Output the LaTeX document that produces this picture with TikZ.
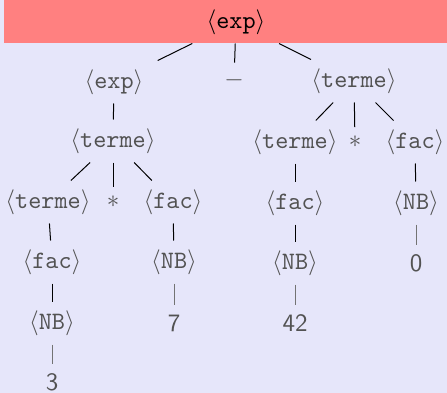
\documentclass[tikz,border=0pt]{standalone}
\definecolor{blockbg}{RGB}{230,230,250}
\definecolor{titlebg}{RGB}{255,128,128}
\newcommand{\nterm}[1]{$\langle$\texttt{#1}$\rangle$}

\begin{document}
\begin{tikzpicture}[x=0.4pt,y=-0.4pt,
	nt/.style={text=black!68,inner xsep=6pt,inner ysep=3.4pt},
	num/.style={text=black!68,font=\sffamily,inner sep=3.6pt},
	leaf/.style={draw=black!55}]
	\useasboundingbox (0,0) rectangle (447,393);
	\fill[blockbg] (0,0) rectangle (447,393);
	\fill[titlebg] (4,0) rectangle (447,43);
	\node[nt,text=black] (root) at (236,22) {\nterm{exp}};
	% first level
	\node[nt] (exp) at (114,82) {\nterm{exp}};
	\node[nt] (minus) at (234,80) {$-$};
	\node[nt] (termeR) at (354,81) {\nterm{terme}};
	\draw (root) -- (exp);	\draw (root) -- (minus);	\draw (root) -- (termeR);
	% left branch
	\node[nt] (termeL) at (113,141) {\nterm{terme}};
	\node[nt] (termeLL) at (48,202) {\nterm{terme}};
	\node[nt] (astL) at (113,202) {$*$};
	\node[nt] (facL) at (173,202) {\nterm{fac}};
	\node[nt] (facLL) at (52,262) {\nterm{fac}};
	\node[nt] (nbL) at (174,262) {\nterm{NB}};
	\node[nt] (nbLL) at (52,323) {\nterm{NB}};
	\node[num] (seven) at (174,323) {7};
	\node[num] (three) at (52,382) {3};
	\draw (exp) -- (termeL);
	\draw (termeL) -- (termeLL);	\draw (termeL) -- (astL);	\draw (termeL) -- (facL);
	\draw (termeLL) -- (facLL);	\draw (facL) -- (nbL);
	\draw (facLL) -- (nbLL);
	\draw[leaf] (nbL) -- (seven);	\draw[leaf] (nbLL) -- (three);
	% right branch
	\node[nt] (termeRL) at (295,142) {\nterm{terme}};
	\node[nt] (astR) at (355,142) {$*$};
	\node[nt] (facR) at (415,142) {\nterm{fac}};
	\node[nt] (facRL) at (295,203) {\nterm{fac}};
	\node[nt] (nbR) at (416,203) {\nterm{NB}};
	\node[nt] (nbRL) at (295,263) {\nterm{NB}};
	\node[num] (zero) at (416,263) {0};
	\node[num] (fortytwo) at (295,323) {42};
	\draw (termeR) -- (termeRL);	\draw (termeR) -- (astR);	\draw (termeR) -- (facR);
	\draw (termeRL) -- (facRL);	\draw (facR) -- (nbR);
	\draw (facRL) -- (nbRL);
	\draw[leaf] (nbR) -- (zero);	\draw[leaf] (nbRL) -- (fortytwo);
\end{tikzpicture}
\end{document}
